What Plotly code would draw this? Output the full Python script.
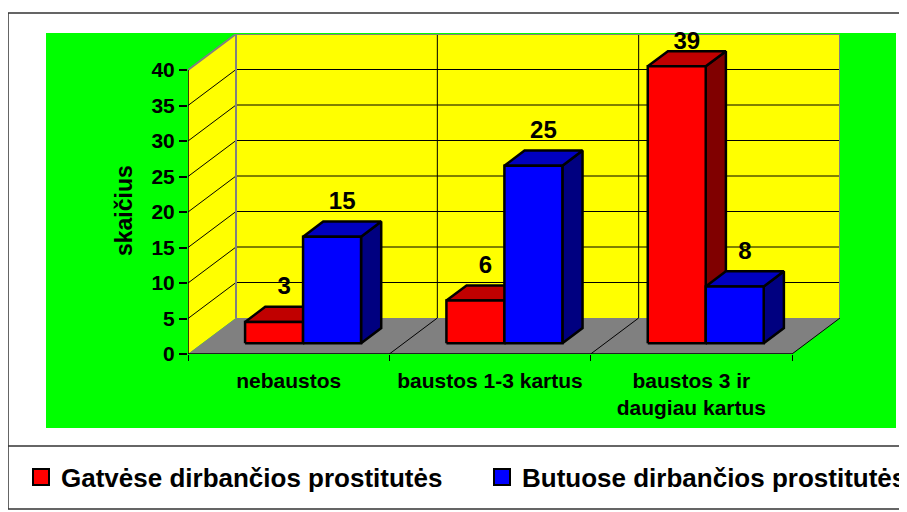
import plotly.graph_objects as go

# ---------------- data ----------------
categories = ["nebaustos", "baustos 1-3 kartus", "baustos 3 ir<br>daugiau kartus"]
series_names = ["Gatvėse dirbančios prostitutės", "Butuose dirbančios prostitutės"]
street_values = [3, 6, 39]
indoor_values = [15, 25, 8]
y_tick_values = [0, 5, 10, 15, 20, 25, 30, 35, 40]
y_title = "skaičius"

# ---------------- styling / geometry ----------------
W, H = 907, 512
OFF = 8                            # page margin around the figure
FONT = "Liberation Sans, Arial, sans-serif"
front_colors = ["#FF0000", "#0000FF"]
top_colors = ["#C00000", "#0000C0"]
side_colors = ["#800000", "#000080"]
YELLOW, FLOOR, GREEN, BORDER = "#FFFF00", "#808080", "#00FF00", "#808080"

N = len(categories)
YMAX = y_tick_values[-1]
CAT_PX = (792 - 188) / N          # pixels per category
VAL_PX = (354 - 70) / YMAX        # pixels per value unit
DX = 48 / CAT_PX                  # depth offset in category units
DY = 36 / VAL_PX                  # depth offset in value units
PX_L, PX_B = 188, 354
PX_R = PX_L + (N + DX) * CAT_PX
PX_T = PX_B - (YMAX + DY) * VAL_PX
D0, D1 = 0.30, 0.72               # bar depth span (fraction of depth)
BAR_W = 0.288                     # bar width in category units
GAP = (1 - 2 * BAR_W) / 2
LABEL_OFF = 26 / VAL_PX


def px(x):
    return (x - OFF) / W


def py(y):
    return 1 - (y - OFF) / H


fig = go.Figure()


def poly(xs, ys, fill, line_color=None, width=0):
    fig.add_trace(go.Scatter(
        x=xs + [xs[0]], y=ys + [ys[0]], mode="lines" if width else "none",
        fill="toself", fillcolor=fill,
        line=dict(color=line_color or fill, width=width),
        showlegend=False, hoverinfo="skip"))


def lines(xs, ys, color, width):
    fig.add_trace(go.Scatter(x=xs, y=ys, mode="lines",
                             line=dict(color=color, width=width),
                             showlegend=False, hoverinfo="skip"))


# walls and floor
poly([0, 0, DX, DX], [0, YMAX, YMAX + DY, DY], YELLOW)
poly([DX, DX, N + DX, N + DX], [DY, YMAX + DY, YMAX + DY, DY], YELLOW)
poly([0, N, N + DX, DX], [0, 0, DY, DY], FLOOR)

# gridlines
gx, gy = [], []
for v in y_tick_values[1:-1]:
    gx += [0, DX, N + DX, None]
    gy += [v, v + DY, v + DY, None]
for k in range(1, N):
    gx += [k + DX, k + DX, None, k, k + DX, None]
    gy += [DY, YMAX + DY, None, 0, DY, None]
gx += [N, N + DX, None]
gy += [0, DY, None]
lines(gx, gy, "black", 1)

# wall borders
lines([0, DX, N + DX, N + DX, None, DX, DX],
      [YMAX, YMAX + DY, YMAX + DY, DY, None, DY, YMAX + DY], BORDER, 2)
# front axis lines
lines([0, 0, None, 0, N], [YMAX, 0, None, 0, 0], "black", 1.5)

# bars
all_values = [street_values, indoor_values]
ddx, ddy = (D1 - D0) * DX, (D1 - D0) * DY
lab_x, lab_y, lab_t = [], [], []
for i in range(N):
    for s, vals in enumerate(all_values):
        v = vals[i]
        xl = i + GAP + s * BAR_W + D0 * DX
        xr = xl + BAR_W
        yb = D0 * DY
        yt = v + D0 * DY
        poly([xr, xr + ddx, xr + ddx, xr], [yb, yb + ddy, yt + ddy, yt],
             side_colors[s], "black", 2.5)
        poly([xl, xr, xr + ddx, xl + ddx], [yt, yt, yt + ddy, yt + ddy],
             top_colors[s], "black", 2.5)
        poly([xl, xr, xr, xl], [yb, yb, yt, yt], front_colors[s], "black", 2.5)
        mid = (D0 + D1) / 2
        lab_x.append(i + GAP + s * BAR_W + BAR_W / 2 + mid * DX)
        lab_y.append(min(v + mid * DY + LABEL_OFF, YMAX + DY - 9 / VAL_PX))
        lab_t.append(str(v))

fig.add_trace(go.Scatter(
    x=lab_x, y=lab_y, text=lab_t, mode="text", textposition="middle center",
    textfont=dict(family=FONT, size=24, color="black", weight="bold"),
    showlegend=False, hoverinfo="skip", cliponaxis=False))

# legend entries (one legend each, positioned like the reference)
legend_ids = ["legend", "legend2"]
legend_px = [21, 482]
for s, name in enumerate(series_names):
    fig.add_trace(go.Scatter(
        x=[None], y=[None], mode="markers", name=name, legend=legend_ids[s],
        marker=dict(symbol="square", size=16, color=front_colors[s],
                    line=dict(color="black", width=2))))

legend_style = dict(orientation="h", xanchor="left", y=py(477), yanchor="middle",
                    font=dict(family=FONT, size=26, color="black", weight="bold"),
                    bgcolor="rgba(0,0,0,0)", borderwidth=0)

fig.update_layout(
    width=W, height=H,
    margin=dict(l=0, r=0, t=0, b=0, autoexpand=False),
    paper_bgcolor="white", plot_bgcolor="rgba(0,0,0,0)",
    font=dict(family=FONT, color="black"),
    showlegend=True,
    legend=dict(x=px(legend_px[0]), **legend_style),
    legend2=dict(x=px(legend_px[1]), **legend_style),
    xaxis=dict(domain=[px(PX_L), px(PX_R)], range=[0, N + DX],
               showgrid=False, zeroline=False, showline=False,
               tickmode="array", tickvals=[i + 0.5 for i in range(N)], ticktext=categories,
               ticks="", ticklabelstandoff=12,
               tickfont=dict(family=FONT, size=21, color="black", weight="bold"),
               minor=dict(tickmode="array", tickvals=list(range(N + 1)), ticks="outside",
                          ticklen=6, tickcolor="black", tickwidth=1, showgrid=False)),
    yaxis=dict(domain=[py(PX_B), py(PX_T)], range=[0, YMAX + DY],
               showgrid=False, zeroline=False, showline=False,
               tickmode="array", tickvals=y_tick_values,
               ticks="outside", ticklen=8, tickcolor="black", tickwidth=1.5,
               tickfont=dict(family=FONT, size=21, color="black", weight="bold")),
    shapes=[
        dict(type="rect", xref="paper", yref="paper", x0=px(8), x1=px(925), y0=py(509), y1=py(13),
             line=dict(color="#333333", width=1.5), fillcolor="white", layer="below"),
        dict(type="line", xref="paper", yref="paper", x0=px(8), x1=px(925), y0=py(446), y1=py(446),
             line=dict(color="#333333", width=1.5), layer="below"),
        dict(type="rect", xref="paper", yref="paper", x0=px(46), x1=px(896), y0=py(428), y1=py(33),
             line=dict(width=0), fillcolor=GREEN, layer="below"),
    ],
    annotations=[
        dict(text=y_title, xref="paper", yref="paper", x=px(124), y=py(211),
             xanchor="center", yanchor="middle",
             textangle=-90, showarrow=False,
             font=dict(family=FONT, size=23, color="black", weight="bold")),
    ],
)

fig.write_html("out.html")
